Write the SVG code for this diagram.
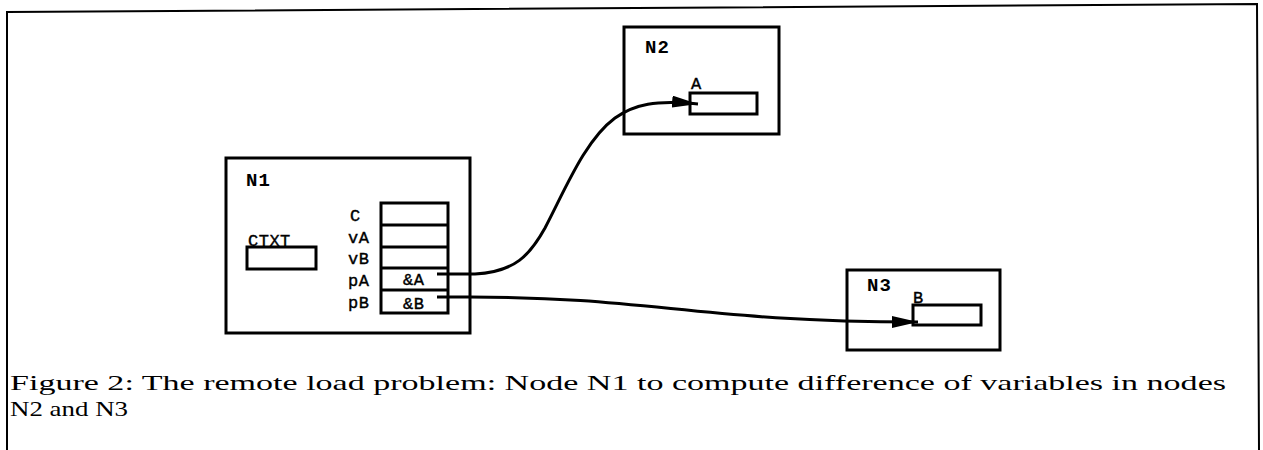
<svg xmlns="http://www.w3.org/2000/svg" width="1263" height="450" viewBox="0 0 1263 450">
<style>
.box{fill:#fff;stroke:#000;stroke-width:3}
.frame{fill:none;stroke:#000;stroke-width:2}
.mono{font-family:"Liberation Mono","DejaVu Sans Mono",monospace;font-size:17px;fill:#000;stroke:#000;stroke-width:0.4;letter-spacing:0.5px}
.nl{font-family:"Liberation Mono","DejaVu Sans Mono",monospace;font-size:19px;font-weight:bold;fill:#000;letter-spacing:1px}
.cap{font-family:"Liberation Serif","DejaVu Serif",serif;font-size:22px;fill:#000}
.con{fill:none;stroke:#000;stroke-width:3}
</style>
<defs>
<marker id="ah" viewBox="0 0 26 12" refX="26" refY="6" markerWidth="26" markerHeight="12" markerUnits="userSpaceOnUse" orient="auto">
<path d="M0,0 L26,6 L0,12 Z" fill="#000"/>
</marker>
</defs>
<polyline class="frame" points="7,450 7,12 1257,4 1259,450"/>
<g id="N1">
<rect class="box" x="226" y="158" width="244" height="175"/>
<text class="nl" x="246" y="186">N1</text>
<text class="mono" x="248" y="246">CTXT</text>
<rect class="box" x="247" y="247" width="69" height="22"/>
<rect class="box" x="381" y="203" width="67" height="110"/>
<line class="box" x1="381" y1="225" x2="448" y2="225"/>
<line class="box" x1="381" y1="247" x2="448" y2="247"/>
<line class="box" x1="381" y1="268" x2="448" y2="268"/>
<line class="box" x1="381" y1="290" x2="448" y2="290"/>
<text class="mono" x="350" y="221">C</text>
<text class="mono" x="348" y="243">vA</text>
<text class="mono" x="348" y="264">vB</text>
<text class="mono" x="348" y="286">pA</text>
<text class="mono" x="348" y="308">pB</text>
<text class="mono" x="403" y="285">&amp;A</text>
<text class="mono" x="403" y="309">&amp;B</text>
</g>
<g id="N2">
<rect class="box" x="624" y="27" width="155" height="107"/>
<text class="nl" x="645" y="53">N2</text>
<text class="mono" x="691" y="89">A</text>
<rect class="box" x="690" y="93" width="67" height="21"/>
</g>
<g id="N3">
<rect class="box" x="847" y="270" width="153" height="80"/>
<text class="nl" x="867" y="291">N3</text>
<text class="mono" x="913" y="303">B</text>
<rect class="box" x="913" y="305" width="68" height="20"/>
</g>
<g id="connectors">
<path class="con" marker-end="url(#ah)" d="M437,274 L475,274 C515,272 530,255 545,228 C565,190 585,140 615,118 C635,104 655,100 698,104"/>
<path class="con" marker-end="url(#ah)" d="M437,297 L470,297 C650,297 700,322 918,322"/>
</g>
<g id="caption">
<text class="cap" x="10" y="390" textLength="1216" lengthAdjust="spacingAndGlyphs">Figure 2: The remote load problem: Node N1 to compute difference of variables in nodes</text>
<text class="cap" x="10" y="416" textLength="118" lengthAdjust="spacingAndGlyphs">N2 and N3</text>
</g>
</svg>
